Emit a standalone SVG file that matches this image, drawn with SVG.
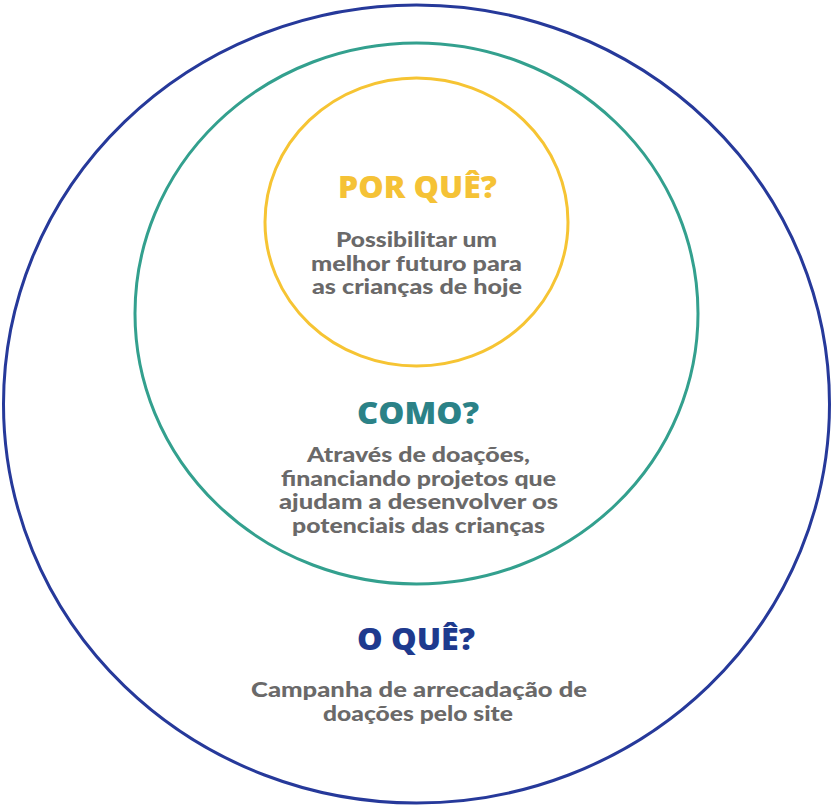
<svg xmlns="http://www.w3.org/2000/svg" width="834" height="806" viewBox="0 0 834 806">
<style>
.ring{fill:none;stroke-width:3}
.title{font-family:"Open Sans","Liberation Sans",sans-serif;font-weight:800;font-size:30px;text-anchor:middle}
.body{font-family:"Lato","Open Sans","Liberation Sans",sans-serif;font-weight:900;font-size:21px;fill:#6a6969;text-anchor:middle}
</style>
<rect width="834" height="806" fill="#ffffff"/>
<g id="o-que">
<ellipse class="ring" cx="416.5" cy="404" rx="413" ry="399" stroke="#26399a"/>
<text class="title" x="416" y="650" fill="#1e3a8e" textLength="118" lengthAdjust="spacingAndGlyphs">O QUÊ?</text>
<text class="body" x="419" y="697" textLength="336" lengthAdjust="spacingAndGlyphs">Campanha de arrecadação de</text>
<text class="body" x="418" y="721" textLength="190" lengthAdjust="spacingAndGlyphs">doações pelo site</text>
</g>
<g id="como">
<ellipse class="ring" cx="416.5" cy="313.5" rx="281.5" ry="270.5" stroke="#33a08e"/>
<text class="title" x="418" y="424" fill="#2b8287" textLength="122" lengthAdjust="spacingAndGlyphs">COMO?</text>
<text class="body" x="418.5" y="462" textLength="223" lengthAdjust="spacingAndGlyphs">Através de doações,</text>
<text class="body" x="418.5" y="486" textLength="275" lengthAdjust="spacingAndGlyphs">financiando projetos que</text>
<text class="body" x="418.5" y="509" textLength="279" lengthAdjust="spacingAndGlyphs">ajudam a desenvolver os</text>
<text class="body" x="418.5" y="533" textLength="253" lengthAdjust="spacingAndGlyphs">potenciais das crianças</text>
</g>
<g id="por-que">
<ellipse class="ring" cx="416.5" cy="222" rx="151.5" ry="144" stroke="#f6c433"/>
<text class="title" x="417.5" y="198" fill="#f5c236" textLength="159" lengthAdjust="spacingAndGlyphs">POR QUÊ?</text>
<text class="body" x="416.5" y="247" textLength="161" lengthAdjust="spacingAndGlyphs">Possibilitar um</text>
<text class="body" x="416.5" y="271" textLength="211" lengthAdjust="spacingAndGlyphs">melhor futuro para</text>
<text class="body" x="417" y="294" textLength="210" lengthAdjust="spacingAndGlyphs">as crianças de hoje</text>
</g>
<g id="connectors"></g>
</svg>
